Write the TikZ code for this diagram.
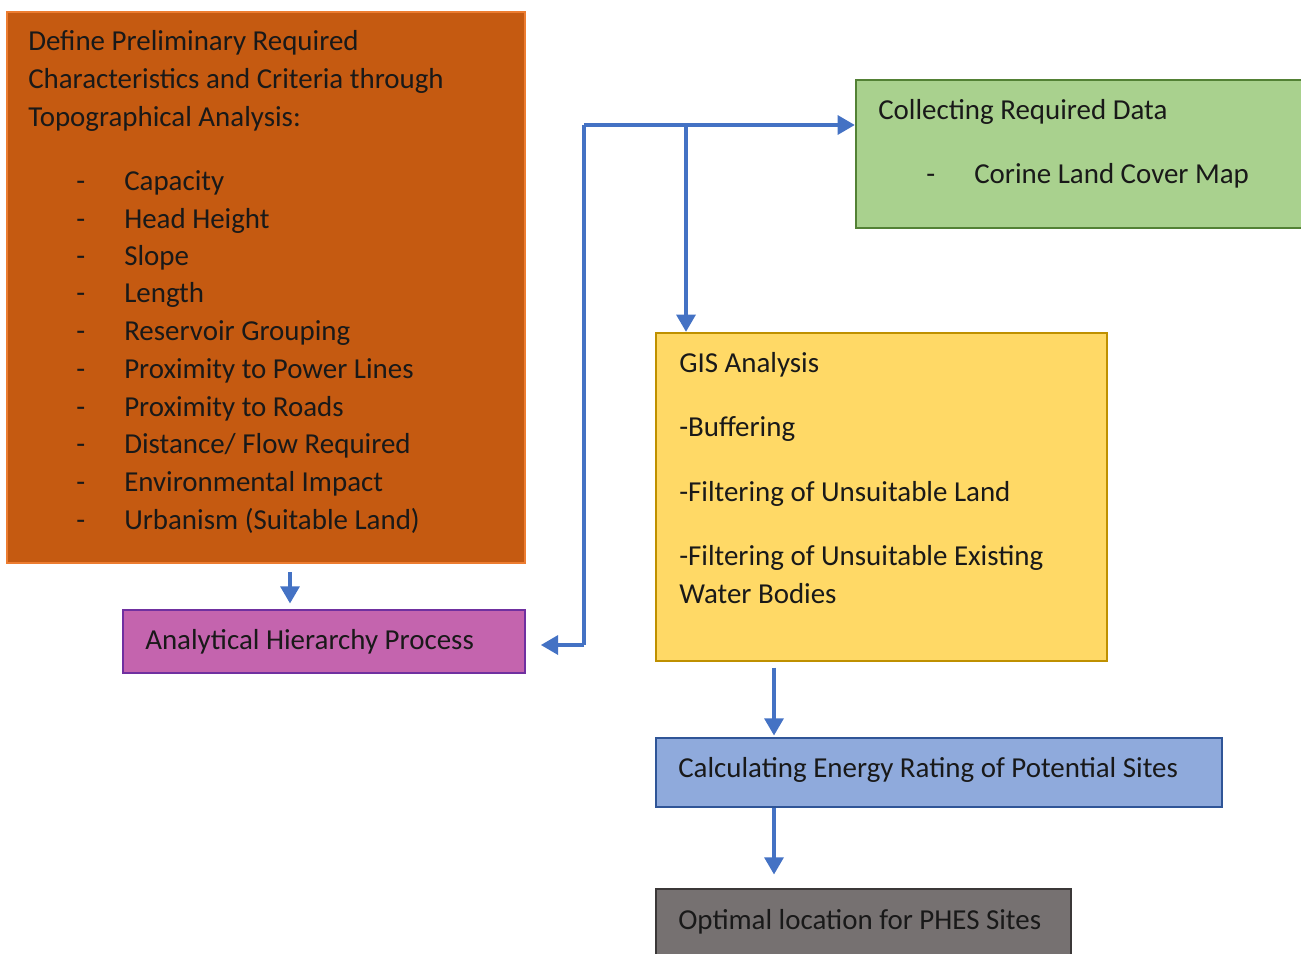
\documentclass[tikz,border=0pt]{standalone}
\usepackage{fontspec}
\setmainfont{Carlito}
\usetikzlibrary{fit,arrows.meta}
\definecolor{orfill}{HTML}{C55A11}
\definecolor{ordraw}{HTML}{ED7D31}
\definecolor{pufill}{HTML}{C464AE}
\definecolor{pudraw}{HTML}{7030A0}
\definecolor{grfill}{HTML}{A9D18E}
\definecolor{grdraw}{HTML}{538135}
\definecolor{yefill}{HTML}{FFD966}
\definecolor{yedraw}{HTML}{BF9000}
\definecolor{blfill}{HTML}{8FAADC}
\definecolor{bldraw}{HTML}{2F5597}
\definecolor{gyfill}{HTML}{767171}
\definecolor{gydraw}{HTML}{3B3838}
\definecolor{arrcol}{HTML}{4472C4}
\tikzset{
  boxx/.style={rectangle, inner sep=0pt, line width=1.6pt},
  txt/.style={anchor=base west, inner sep=0pt, font=\fontsize{21.7}{26}\selectfont, text=black!90},
  arr/.style={draw=arrcol, line width=3.2pt, -{Triangle[length=13pt,width=14pt]}},
  ln/.style={draw=arrcol, line width=3.2pt}
}
\begin{document}
\begin{tikzpicture}[x=0.75pt,y=-0.75pt]
\useasboundingbox (0,0) rectangle (1301,953);
% boxes
\node[boxx, fill=orfill, draw=ordraw, fit={(7,12) (525,563)}] (orange) {};
\node[boxx, fill=pufill, draw=pudraw, fit={(123,610) (525,673)}] (purple) {};
\node[boxx, fill=grfill, draw=grdraw, fit={(856,80) (1304,228)}] (green) {};
\node[boxx, fill=yefill, draw=yedraw, fit={(656,333) (1107,661)}] (yellow) {};
\node[boxx, fill=blfill, draw=bldraw, fit={(656,738) (1222,807)}] (blue) {};
\node[boxx, fill=gyfill, draw=gydraw, fit={(656,889) (1071,960)}] (gray) {};
% orange text
\node[txt] (o1) at (28,50) {Define Preliminary Required};
\node[txt] (o2) at (28,88) {Characteristics and Criteria through};
\node[txt] (o3) at (28,126) {Topographical Analysis:};
\foreach \yy/\t [count=\i] in {190/{Capacity}, 228/{Head Height}, 265/{Slope}, 302/{Length}, 340/{Reservoir Grouping}, 378/{Proximity to Power Lines}, 416/{Proximity to Roads}, 453/{Distance/ Flow Required}, 491/{Environmental Impact}, 529/{Urbanism (Suitable Land)}}{
  \node[txt] (od\i) at (76,\yy) {-};
  \node[txt] (ot\i) at (124,\yy) {\t};
}
% purple
\node[txt] (p1) at (145,649) {Analytical Hierarchy Process};
% green
\node[txt] (g1) at (878,119) {Collecting Required Data};
\node[txt] (g2) at (926,183) {-};
\node[txt] (g3) at (974,183) {Corine Land Cover Map};
% yellow
\node[txt] (y1) at (679,372) {GIS Analysis};
\node[txt] (y2) at (679,436) {-Buffering};
\node[txt] (y3) at (679,501) {-Filtering of Unsuitable Land};
\node[txt] (y4) at (679,565) {-Filtering of Unsuitable Existing};
\node[txt] (y5) at (679,603) {Water Bodies};
% blue
\node[txt] (b1) at (678,777) {Calculating Energy Rating of Potential Sites};
% gray
\node[txt] (k1) at (678,929) {Optimal location for PHES Sites};
% connectors
\coordinate (j1) at (584,125);
\coordinate (j2) at (686,125);
\coordinate (j3) at (584,645);
\draw[arr] (j1) -- (j1 -| green.west);
\draw[arr] (j2) -- (j2 |- yellow.north);
\draw[ln] (j1) -- (j3);
\draw[arr, shorten >=11pt] (j3) -- (j3 -| purple.east);
\draw[arr, shorten <=7pt, shorten >=4pt] (290,563) coordinate (oa) -- (oa |- purple.north);
\draw[arr, shorten <=5pt, shorten >=1pt] (774,661) coordinate (ya) -- (ya |- blue.north);
\draw[arr, shorten <=1pt, shorten >=10pt] (774,807) coordinate (ba) -- (ba |- gray.north);
\end{tikzpicture}
\end{document}
